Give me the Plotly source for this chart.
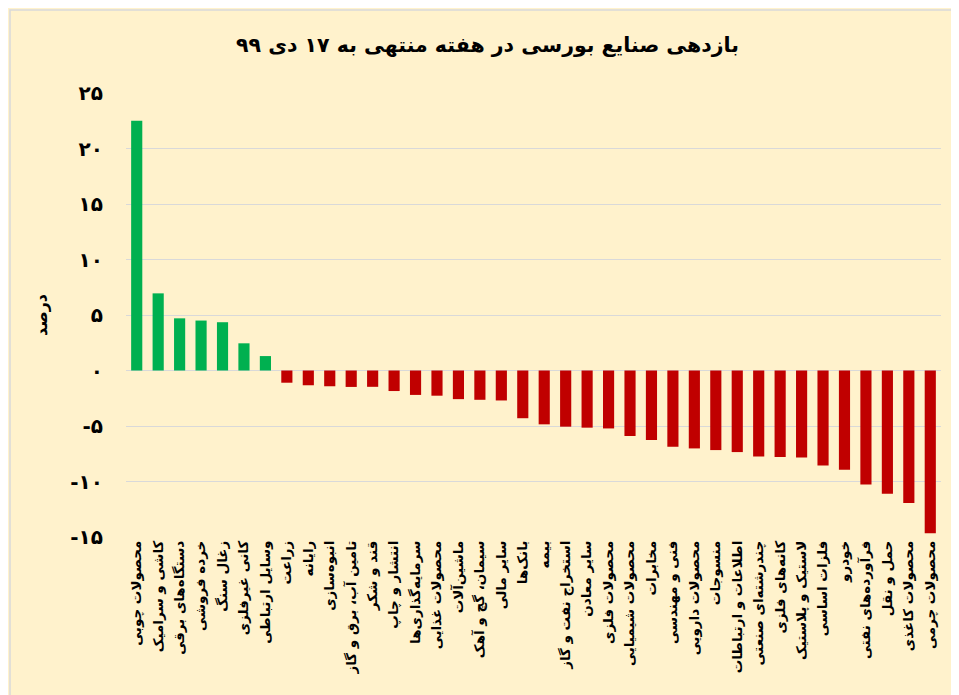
import plotly.graph_objects as go

industries = [
    "محصولات چوبی", "کاشی و سرامیک", "دستگاه‌های برقی", "خرده فروشی", "زغال سنگ",
    "کانی غیرفلزی", "وسایل ارتباطی", "زراعت", "رایانه", "انبوه‌سازی",
    "تامین آب، برق و گاز", "قند و شکر", "انتشار و چاپ", "سرمایه‌گذاری‌ها", "محصولات غذایی",
    "ماشین‌آلات", "سیمان، گچ و آهک", "سایر مالی", "بانک‌ها", "بیمه",
    "استخراج نفت و گاز", "سایر معادن", "محصولات فلزی", "محصولات شیمیایی", "مخابرات",
    "فنی و مهندسی", "محصولات دارویی", "منسوجات", "اطلاعات و ارتباطات", "چندرشته‌ای صنعتی",
    "کانه‌های فلزی", "لاستیک و پلاستیک", "فلزات اساسی", "خودرو", "فرآورده‌های نفتی",
    "حمل و نقل", "محصولات کاغذی", "محصولات چرمی",
]
returns = [
    22.5, 6.95, 4.7, 4.5, 4.35, 2.45, 1.3,
    -1.1, -1.33, -1.42, -1.48, -1.47, -1.85, -2.2, -2.27, -2.58, -2.64, -2.7,
    -4.3, -4.85, -5.06, -5.15, -5.22, -5.9, -6.27, -6.87, -7.02, -7.17, -7.35,
    -7.74, -7.8, -7.83, -8.55, -8.95, -10.27, -11.1, -11.93, -14.67,
]
tick_vals = [25, 20, 15, 10, 5, 0, -5, -10, -15]
tick_text = ["۲۵", "۲۰", "۱۵", "۱۰", "۵", "۰", "-۵", "-۱۰", "-۱۵"]

colors = ["#00B050" if v > 0 else "#C00000" for v in returns]

fig = go.Figure(go.Bar(x=industries, y=returns, marker_color=colors,
                       marker_line_width=0))

fig.update_layout(
    width=959, height=695,
    paper_bgcolor="#FFF2CC", plot_bgcolor="#FFF2CC",
    margin=dict(l=118, r=26, t=85, b=166),
    bargap=0.48,
    showlegend=False,
    font=dict(family="DejaVu Sans", color="black"),
    title=dict(text="<b>بازدهی صنایع بورسی در هفته منتهی به ۱۷ دی ۹۹</b>",
               x=0.5, xanchor="center", y=0.947, yanchor="middle",
               font=dict(size=20.5, color="black")),
)
fig.update_xaxes(tickangle=-90, tickfont=dict(size=13.5, weight="bold"), showgrid=False,
                 showline=False, ticks="")
fig.update_yaxes(range=[-15, 25], tickvals=tick_vals,
                 ticktext=["<b>%s</b>" % t for t in tick_text],
                 tickfont=dict(size=20, family="DejaVu Sans"),
                 ticklabelstandoff=22,
                 gridcolor="#D9D9D9", zeroline=True, zerolinecolor="#D9D9D9",
                 zerolinewidth=1, showline=False, ticks="",
                 title=dict(text="<b>درصد</b>", font=dict(size=16), standoff=18))

# thin frame around the whole chart
fig.add_shape(type="rect", xref="paper", yref="paper",
              x0=-116 / 815, x1=1 + 22 / 815, y0=-163 / 444, y1=1 + 83 / 444,
              line=dict(color="#D9D9D9", width=1.5), fillcolor="rgba(0,0,0,0)")

fig.write_html("out.html")
